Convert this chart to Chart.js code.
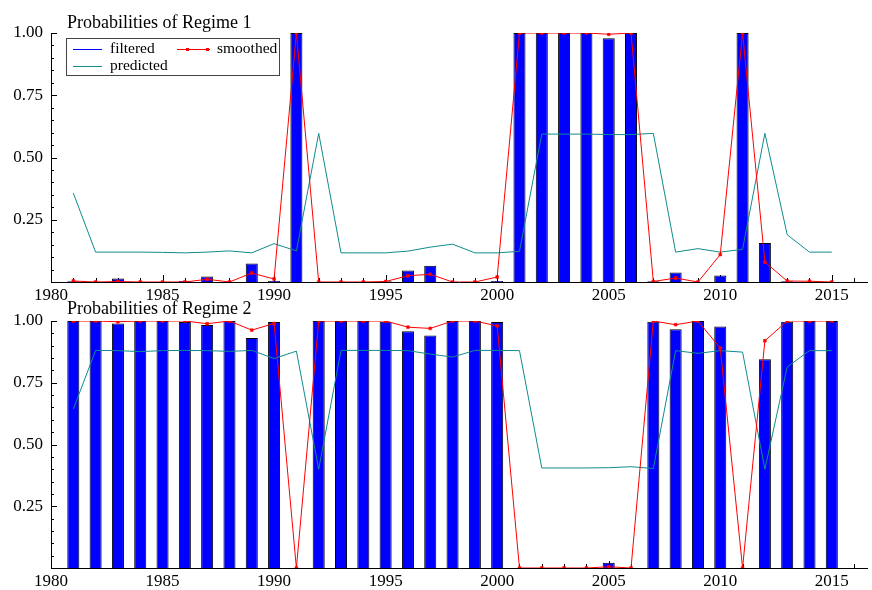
<!DOCTYPE html>
<html>
<head>
<meta charset="utf-8">
<script src="https://cdn.jsdelivr.net/npm/chart.js@4.4.1/dist/chart.umd.min.js"></script>
<style>
    html, body { margin: 0; padding: 0; background: #fff; }
    #wrap { position: relative; width: 872px; height: 590px; }
    canvas { position: absolute; left: 0; }
    #regime1 { top: 0; }
    #regime2 { top: 290px; }
</style>
</head>
<body>
<div id="wrap">
    <canvas id="regime1" width="872" height="304"></canvas>
    <canvas id="regime2" width="872" height="300"></canvas>
</div>
<script>
const years = [1981, 1982, 1983, 1984, 1985, 1986, 1987, 1988, 1989, 1990,
    1991, 1992, 1993, 1994, 1995, 1996, 1997, 1998, 1999, 2000,
    2001, 2002, 2003, 2004, 2005, 2006, 2007, 2008, 2009, 2010,
    2011, 2012, 2013, 2014, 2015];
const xTicks = [1980, 1985, 1990, 1995, 2000, 2005, 2010, 2015];
const yTicks = [0.25, 0.5, 0.75, 1.0];

// Regime 1
const filtered1 = [0.003, 0, 0.014, 0, 0, 0.004, 0.022, 0, 0.074, 0.004,
    1.0, 0, 0, 0, 0.003, 0.046, 0.065, 0, 0, 0.004,
    1.0, 1.0, 1.0, 1.0, 0.979, 1.0, 0.003, 0.038, 0, 0.026,
    1.0, 0.157, 0.003, 0, 0];
const smoothed1 = [0.004, 0, 0.002, 0, 0, 0, 0.011, 0, 0.036, 0.012,
    1.0, 0, 0, 0, 0.002, 0.025, 0.031, 0, 0, 0.02,
    1.0, 1.0, 1.0, 1.0, 0.995, 1.0, 0.002, 0.016, 0, 0.11,
    1.0, 0.08, 0.004, 0.003, 0];
const predicted1 = [0.357, 0.12, 0.12, 0.12, 0.119, 0.117, 0.12, 0.125, 0.117, 0.154,
    0.125, 0.597, 0.117, 0.117, 0.117, 0.124, 0.14, 0.152, 0.117, 0.117,
    0.123, 0.594, 0.594, 0.594, 0.592, 0.592, 0.597, 0.12, 0.134, 0.12,
    0.131, 0.597, 0.19, 0.12, 0.12];

// Regime 2
const filtered2 = [1.0, 1.0, 0.99, 1.0, 1.0, 0.996, 0.984, 1.0, 0.931, 0.996,
    0, 1.0, 1.0, 1.0, 0.997, 0.958, 0.941, 1.0, 1.0, 0.996,
    0, 0, 0, 0, 0.021, 0, 0.997, 0.967, 1.0, 0.978,
    0, 0.845, 0.997, 1.0, 1.0];
const smoothed2 = [1.0, 1.0, 0.997, 1.0, 1.0, 1.0, 0.989, 1.0, 0.963, 0.99,
    0, 1.0, 1.0, 1.0, 1.0, 0.975, 0.97, 1.0, 1.0, 0.98,
    0, 0, 0, 0, 0.005, 0, 1.0, 0.985, 1.0, 0.89,
    0, 0.92, 1.0, 1.0, 1.0];
const predicted2 = [0.643, 0.881, 0.88, 0.876, 0.88, 0.881, 0.88, 0.877, 0.881, 0.848,
    0.878, 0.40, 0.881, 0.881, 0.881, 0.88, 0.866, 0.854, 0.881, 0.881,
    0.88, 0.405, 0.405, 0.405, 0.406, 0.41, 0.403, 0.88, 0.869, 0.88,
    0.874, 0.40, 0.814, 0.88, 0.88];

const SERIF = '"Liberation Serif", "Times New Roman", serif';
const BLUE = '#0000ff';
const RED = '#ff0000';
const TEAL = '#108c8c';

function toPoints(values) {
    return values.map((v, i) => ({ x: years[i], y: v }));
}

function drawLegend(chart) {
    const ctx = chart.ctx;
    const bx = chart.chartArea.left + 15;
    const by = chart.chartArea.top + 5;
    const [filt, smooth, pred] = chart.data.datasets;

    ctx.fillStyle = '#fff';
    ctx.fillRect(bx, by, 213, 37);
    ctx.strokeStyle = '#444';
    ctx.lineWidth = 1;
    ctx.strokeRect(bx + 0.5, by + 0.5, 213, 37);

    const row1 = by + 11, row2 = by + 28;
    ctx.strokeStyle = filt.backgroundColor;
    ctx.beginPath(); ctx.moveTo(bx + 7, row1 + 0.5); ctx.lineTo(bx + 36, row1 + 0.5); ctx.stroke();
    ctx.strokeStyle = smooth.borderColor;
    ctx.beginPath(); ctx.moveTo(bx + 111, row1 + 0.5); ctx.lineTo(bx + 144, row1 + 0.5); ctx.stroke();
    ctx.fillStyle = smooth.borderColor;
    ctx.fillRect(bx + 120, row1 - 1, 3, 3);
    ctx.fillRect(bx + 140, row1 - 1, 3, 3);
    ctx.strokeStyle = pred.borderColor;
    ctx.beginPath(); ctx.moveTo(bx + 7, row2 + 0.5); ctx.lineTo(bx + 36, row2 + 0.5); ctx.stroke();

    ctx.fillStyle = '#000';
    ctx.font = '15.5px ' + SERIF;
    ctx.textBaseline = 'middle';
    ctx.fillText(filt.label, bx + 44, row1);
    ctx.fillText(smooth.label, bx + 151, row1);
    ctx.fillText(pred.label, bx + 44, row2);
}

// inward ticks under the bars, title and legend on top
const panelDecor = {
    id: 'panelDecor',
    beforeDatasetsDraw(chart) {
        const { ctx, chartArea: area, scales: { x, y } } = chart;
        ctx.save();
        ctx.strokeStyle = '#000';
        ctx.lineWidth = 1;
        ctx.beginPath();
        for (let yr = Math.ceil(x.min); yr <= x.max; yr++) {
            const px = Math.round(x.getPixelForValue(yr)) + 0.5;
            ctx.moveTo(px, area.bottom);
            ctx.lineTo(px, area.bottom - (yr % 5 === 0 ? 7 : 4));
        }
        for (let k = 1; k <= 20; k++) {
            const py = Math.round(y.getPixelForValue(k / 20)) + 0.5;
            ctx.moveTo(area.left, py);
            ctx.lineTo(area.left + (k % 5 === 0 ? 6 : 3), py);
        }
        ctx.stroke();
        ctx.restore();
    },
    afterDraw(chart, args, opts) {
        const { ctx, chartArea: area } = chart;
        ctx.save();
        ctx.fillStyle = '#000';
        ctx.font = '18px ' + SERIF;
        ctx.textBaseline = 'alphabetic';
        ctx.fillText(opts.title, area.left + 16, opts.titleY);
        if (opts.legend) drawLegend(chart);
        ctx.restore();
    }
};

function makePanel(canvasId, filtered, smoothed, predicted, opts) {
    const ctx = document.getElementById(canvasId).getContext('2d');
    return new Chart(ctx, {
        type: 'bar',
        data: {
            datasets: [
                {
                    type: 'bar',
                    label: 'filtered',
                    data: toPoints(filtered),
                    backgroundColor: BLUE,
                    borderColor: '#000',
                    borderWidth: 1,
                    borderSkipped: 'start',
                    barPercentage: 0.54,
                    categoryPercentage: 1.0,
                    order: 3
                },
                {
                    type: 'line',
                    label: 'smoothed',
                    data: toPoints(smoothed),
                    borderColor: RED,
                    backgroundColor: RED,
                    borderWidth: 1,
                    pointStyle: 'rect',
                    pointRadius: 2,
                    pointBorderWidth: 0.5,
                    tension: 0,
                    order: 1
                },
                {
                    type: 'line',
                    label: 'predicted',
                    data: toPoints(predicted),
                    borderColor: TEAL,
                    borderWidth: 1,
                    pointRadius: 0,
                    tension: 0,
                    order: 2
                }
            ]
        },
        options: {
            responsive: false,
            animation: false,
            devicePixelRatio: 1,
            layout: { padding: { top: opts.padTop, left: 0, right: 0, bottom: 0 } },
            plugins: {
                legend: { display: false },
                tooltip: { enabled: false },
                panelDecor: { title: opts.title, titleY: opts.titleY, legend: opts.legend }
            },
            scales: {
                x: {
                    type: 'linear',
                    min: 1980,
                    max: 2016.6,
                    offset: false,
                    grid: { display: false, drawTicks: false, offset: false },
                    border: { display: true, color: '#000', width: 1 },
                    afterBuildTicks: s => { s.ticks = xTicks.map(v => ({ value: v })); },
                    afterFit: s => { s.height = 22; },
                    ticks: {
                        autoSkip: false,
                        maxRotation: 0,
                        padding: 3,
                        color: '#000',
                        font: { family: SERIF, size: 17 },
                        callback: v => String(v)
                    }
                },
                y: {
                    min: 0,
                    max: 1,
                    grid: { display: false, drawTicks: false },
                    border: { display: true, color: '#000', width: 1 },
                    afterBuildTicks: s => { s.ticks = yTicks.map(v => ({ value: v })); },
                    afterFit: s => { s.width = 51; },
                    ticks: {
                        padding: 8,
                        color: '#000',
                        font: { family: SERIF, size: 17 },
                        callback: v => v.toFixed(2)
                    }
                }
            }
        },
        plugins: [panelDecor]
    });
}

makePanel('regime1', filtered1, smoothed1, predicted1,
    { title: 'Probabilities of Regime 1', titleY: 28, padTop: 33, legend: true });
makePanel('regime2', filtered2, smoothed2, predicted2,
    { title: 'Probabilities of Regime 2', titleY: 23.5, padTop: 31, legend: false });
</script>
</body>
</html>
